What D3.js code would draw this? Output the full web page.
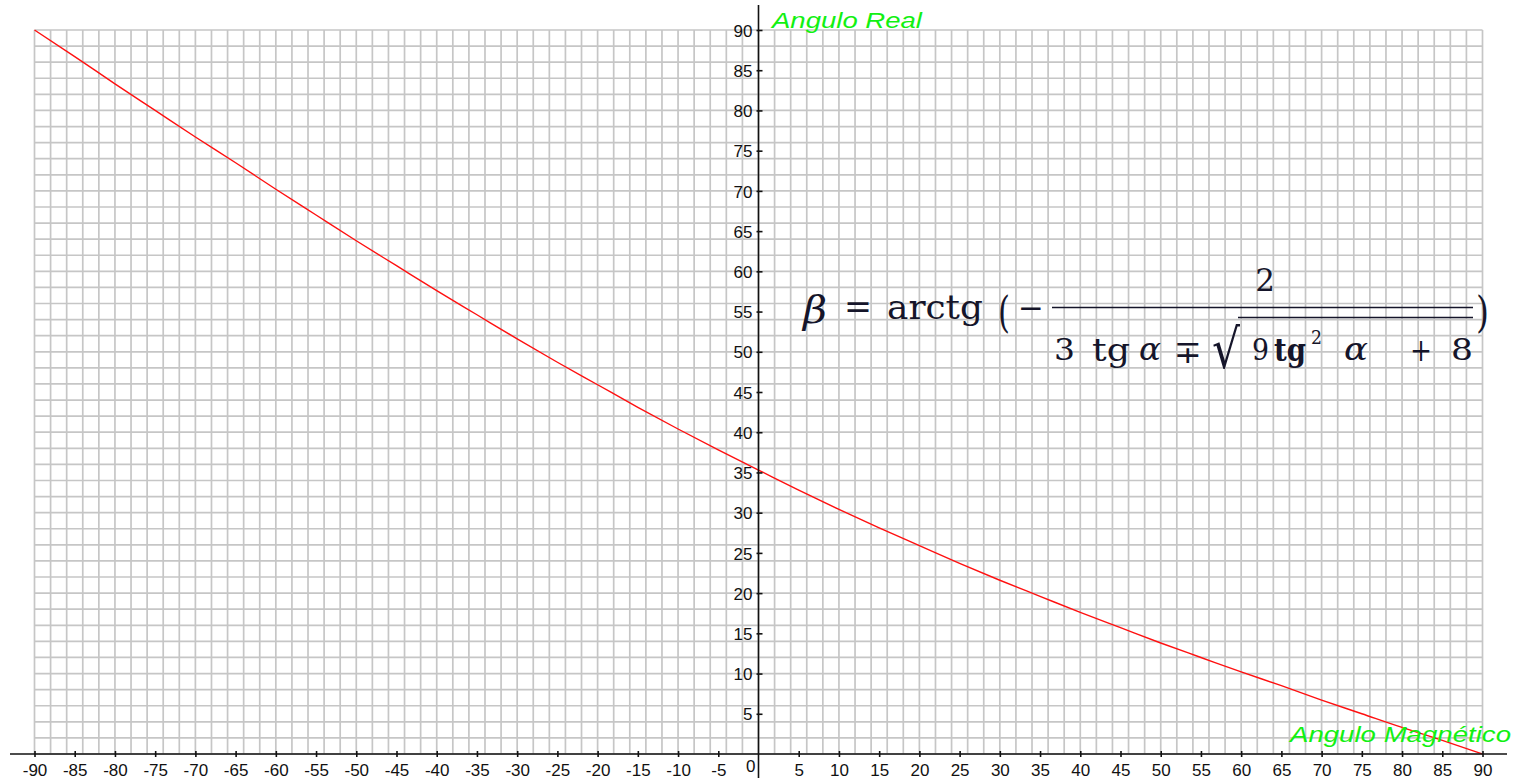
<!DOCTYPE html>
<html>
<head>
<meta charset="utf-8">
<script src="https://cdn.jsdelivr.net/npm/d3@7/dist/d3.min.js"></script>
<style>
  html, body { margin: 0; padding: 0; background: #fff; }
  svg { display: block; }
  .tick text { font-family: "Liberation Sans", Arial, sans-serif; font-size: 17px; fill: #111; }
</style>
</head>
<body>
<svg id="chart" width="1518" height="782"></svg>
<script>
// Magnetic angle α (degrees) and the corresponding real angle β (degrees)
const alphaDeg = [-90, -85, -80, -75, -70, -65, -60, -55, -50, -45, -40, -35, -30, -25, -20, -15, -10, -5,
                  0, 5, 10, 15, 20, 25, 30, 35, 40, 45, 50, 55, 60, 65, 70, 75, 80, 85, 90];
const betaDeg  = [90, 86.7, 83.3, 80.0, 76.7, 73.5, 70.2, 67.0, 63.8, 60.7, 57.6, 54.6, 51.6, 48.7, 45.9, 43.1, 40.4, 37.8,
                  35.3, 32.8, 30.4, 28.1, 25.9, 23.7, 21.6, 19.6, 17.6, 15.7, 13.8, 12.0, 10.2, 8.5, 6.7, 5.0, 3.3, 1.7, 0];

// Axis tick labels
const xTickVals = [-90, -85, -80, -75, -70, -65, -60, -55, -50, -45, -40, -35, -30, -25, -20, -15, -10, -5,
                   5, 10, 15, 20, 25, 30, 35, 40, 45, 50, 55, 60, 65, 70, 75, 80, 85, 90];
const yTickVals = [5, 10, 15, 20, 25, 30, 35, 40, 45, 50, 55, 60, 65, 70, 75, 80, 85, 90];
const originLabel = "0";
const xTitle = "Angulo Magnético";
const yTitle = "Angulo Real";

const svg = d3.select("#chart");
const x = d3.scaleLinear().domain([-90, 90]).range([34.5, 1482.5]);
const y = d3.scaleLinear().domain([0, 90]).range([754, 30]);
const plainNum = d => String(d);   // ASCII hyphen for negatives

// Grid: one line every 2 degrees
const grid = svg.append("g").attr("stroke", "#c6c6c6").attr("stroke-width", 1.7);
grid.selectAll("line.v").data(d3.range(-90, 90.1, 2)).join("line")
  .attr("class", "v")
  .attr("x1", d => x(d)).attr("x2", d => x(d))
  .attr("y1", y(90)).attr("y2", y(0));
grid.selectAll("line.h").data(d3.range(0, 90.1, 2)).join("line")
  .attr("class", "h")
  .attr("y1", d => y(d)).attr("y2", d => y(d))
  .attr("x1", x(-90)).attr("x2", x(90));

// Curve β(α)
const line = d3.line().x((d, i) => x(alphaDeg[i])).y(d => y(d)).curve(d3.curveMonotoneX);
svg.append("path")
  .datum(betaDeg)
  .attr("fill", "none")
  .attr("stroke", "#ff1010")
  .attr("stroke-width", 1.4)
  .attr("d", line);

// Axis lines through the origin
svg.append("line").attr("x1", 10).attr("x2", 1507).attr("y1", y(0)).attr("y2", y(0))
  .attr("stroke", "#111").attr("stroke-width", 1.6);
svg.append("line").attr("x1", x(0)).attr("x2", x(0)).attr("y1", 5).attr("y2", 778)
  .attr("stroke", "#111").attr("stroke-width", 1.6);

// X axis ticks and labels
const gx = svg.append("g").attr("transform", `translate(0,${y(0)})`)
  .call(d3.axisBottom(x).tickValues(xTickVals).tickSize(3).tickPadding(12).tickFormat(plainNum));
gx.select(".domain").remove();
gx.selectAll(".tick line").attr("y1", -3).attr("y2", 3).attr("stroke", "#111").attr("stroke-width", 1.6);
gx.selectAll(".tick text").attr("dy", "0.71em").attr("y", 9.5);

// Y axis ticks and labels
const gy = svg.append("g").attr("transform", `translate(${x(0)},0)`)
  .call(d3.axisLeft(y).tickValues(yTickVals).tickSize(3).tickPadding(6).tickFormat(plainNum));
gy.select(".domain").remove();
gy.selectAll(".tick line").attr("x1", -2).attr("x2", 4).attr("stroke", "#111").attr("stroke-width", 1.6);
gy.selectAll(".tick text").attr("x", -6).attr("dy", "0.36em");

// Origin label
svg.append("text").attr("x", x(0) - 3).attr("y", 772).attr("text-anchor", "end")
  .attr("font-family", "Liberation Sans, Arial, sans-serif").attr("font-size", 17).attr("fill", "#111")
  .text(originLabel);

// Axis titles
const titleFont = "Liberation Sans, Arial, sans-serif";
svg.append("text").attr("x", 772).attr("y", 28)
  .attr("font-family", titleFont).attr("font-style", "italic").attr("font-size", 22)
  .attr("fill", "#12f012").attr("textLength", 150).attr("lengthAdjust", "spacingAndGlyphs")
  .text(yTitle);
svg.append("text").attr("x", 1290).attr("y", 742)
  .attr("font-family", titleFont).attr("font-style", "italic").attr("font-size", 22)
  .attr("fill", "#12f012").attr("textLength", 221).attr("lengthAdjust", "spacingAndGlyphs")
  .text(xTitle);

// Formula β = arctg(−2 / (3 tg α ∓ √(9 tg² α + 8)))
const ink = "#15152a";
const fm = svg.append("g").attr("fill", ink).attr("font-family", "DejaVu Serif, Liberation Serif, serif");
function piece(txt, px, py, size, opts = {}) {
  const t = fm.append("text").attr("x", px).attr("y", py).attr("font-size", size).text(txt);
  if (opts.italic) t.attr("font-style", "italic");
  if (opts.bold) t.attr("font-weight", "bold");
  if (opts.w) t.attr("textLength", opts.w).attr("lengthAdjust", "spacingAndGlyphs");
  if (opts.anchor) t.attr("text-anchor", opts.anchor);
  return t;
}
piece("β", 803, 323, 38, { italic: true, w: 24 });
piece("=", 844, 318, 34, { w: 28 });
piece("arctg", 887, 319, 33, { w: 96 });
piece("(", 998, 327, 42, { w: 12 });
piece("−", 1018, 319, 32, { w: 26 });
piece("2", 1265, 291, 31, { anchor: "middle" });
piece("3", 1054, 360, 30, { w: 21 });
piece("tg", 1092, 361, 31, { w: 38 });
piece("α", 1139, 360, 31, { italic: true, w: 22 });
piece("∓", 1174, 363, 32, { w: 28 });
piece("√", 1212, 368, 54, { w: 28 });
piece("9", 1252, 360, 30, { w: 17 });
piece("tg", 1274, 361, 31, { bold: true, w: 32 });
piece("2", 1311, 344, 19, { w: 11 });
piece("α", 1344, 360, 31, { italic: true, w: 24 });
piece("+", 1410, 361, 32, { w: 22 });
piece("8", 1451, 360, 30, { w: 22 });
piece(")", 1476, 327, 42, { w: 13 });
// fraction bar and radical overline
fm.append("line").attr("x1", 1052).attr("x2", 1473).attr("y1", 307.5).attr("y2", 307.5)
  .attr("stroke", ink).attr("stroke-width", 1.6);
fm.append("line").attr("x1", 1238).attr("x2", 1473).attr("y1", 317.5).attr("y2", 317.5)
  .attr("stroke", ink).attr("stroke-width", 1.6);
</script>
</body>
</html>
